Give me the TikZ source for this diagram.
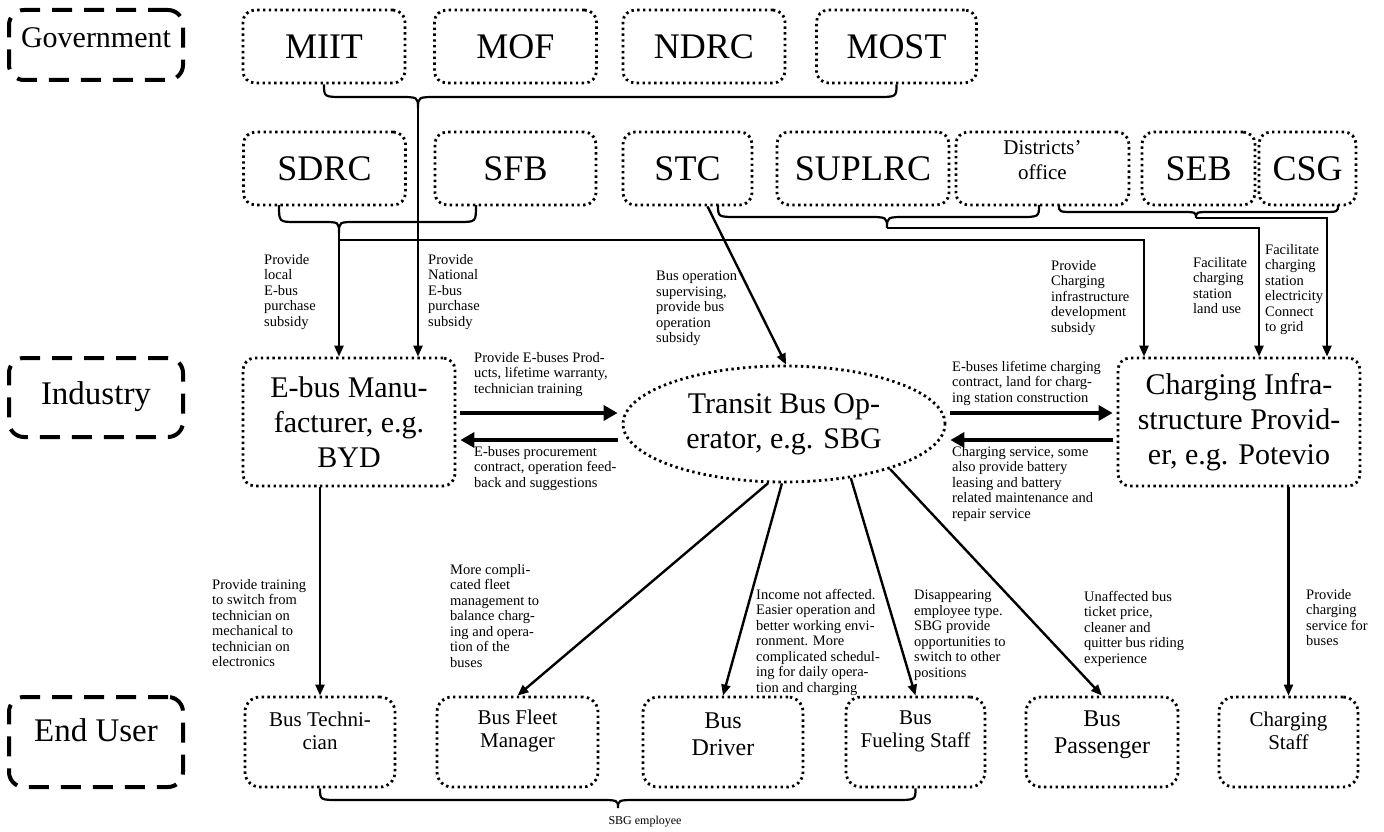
\documentclass[tikz,border=0pt]{standalone}
\usepackage{fontspec}
\setmainfont{Liberation Serif}
\usetikzlibrary{arrows.meta,shapes.geometric,calc}
\newcommand{\myrowfont}{\fontsize{36}{40}\selectfont}
\newcommand{\mymidfont}{\fontsize{30}{35}\selectfont}
\begin{document}
\begin{tikzpicture}[x=1pt,y=-1pt,
  dotbox/.style={draw, rounded corners=12pt, line width=2.8pt, dash pattern=on 2.4pt off 3.4pt, inner sep=0pt, align=center},
  dotell/.style={draw, ellipse, line width=2.8pt, dash pattern=on 2.4pt off 3.4pt, inner sep=0pt, align=center},
  lblbox/.style={draw, rounded corners=15pt, line width=4pt, dash pattern=on 20pt off 12pt, inner sep=0pt, minimum width=174pt},
  ann/.style={font=\fontsize{14.5}{15.5}\selectfont, align=left, anchor=north west, inner sep=0pt},
  btxt/.style={font=\fontsize{21}{23}\selectfont, align=center, inner sep=0pt},
  brace/.style={line width=2.2pt},
  arr/.style={line width=2.4pt, -{Triangle[length=11pt,width=9pt]}},
  barr/.style={line width=4.5pt, -{Triangle[length=14pt,width=15pt]}, shorten <=4pt, shorten >=4pt}]
\useasboundingbox (0,0) rectangle (1384,832);

% ---- level labels
\node[lblbox, minimum height=70pt] (govbox) at (96,45) {};
\node[font=\fontsize{30}{34}\selectfont] (govtxt) at (96,38) {Government};
\node[lblbox, minimum height=79pt] (indbox) at (96,397.5) {};
\node[font=\fontsize{33}{36}\selectfont] (indtxt) at (96,397) {Industry};
\node[lblbox, minimum height=90pt] (endbox) at (96,742) {};
\node[font=\fontsize{33}{36}\selectfont] (endtxt) at (96,730) {End User};

% ---- row 1
\node[dotbox, minimum width=162pt, minimum height=73pt, font=\myrowfont] (miit) at (324,46.5) {MIIT};
\node[dotbox, minimum width=162pt, minimum height=73pt, font=\myrowfont] (mof) at (515.5,46.5) {MOF};
\node[dotbox, minimum width=162pt, minimum height=73pt, font=\myrowfont] (ndrc) at (704,46.5) {NDRC};
\node[dotbox, minimum width=160pt, minimum height=73pt, font=\myrowfont] (most) at (896.5,46.5) {MOST};

% ---- row 2
\node[dotbox, minimum width=162pt, minimum height=73pt, font=\myrowfont] (sdrc) at (324.5,168.5) {SDRC};
\node[dotbox, minimum width=161pt, minimum height=73pt, font=\myrowfont] (sfb) at (515.5,168.5) {SFB};
\node[dotbox, minimum width=129pt, minimum height=73pt, font=\myrowfont] (stc) at (687.5,168.5) {STC};
\node[dotbox, minimum width=172pt, minimum height=73pt, font=\myrowfont] (suplrc) at (863,168.5) {SUPLRC};
\node[dotbox, minimum width=173pt, minimum height=73pt] (dist) at (1042.5,168.5) {};
\node[font=\fontsize{21}{25}\selectfont, align=center, inner sep=0pt] (disttxt) at (1042.5,160) {Districts’\\office};
\node[dotbox, minimum width=113pt, minimum height=73pt, font=\myrowfont] (seb) at (1198.5,168.5) {SEB};
\node[dotbox, minimum width=97pt, minimum height=73pt, font=\myrowfont] (csg) at (1307.5,168.5) {CSG};

% ---- industry
\node[dotbox, minimum width=212pt, minimum height=128pt, font=\mymidfont] (ebus) at (349,422) {E-bus Manu-\\facturer, e.g.\\BYD};
\node[dotell, minimum width=322pt, minimum height=116pt, font=\mymidfont] (tbo) at (784,424) {Transit Bus Op-\\erator, e.g. SBG};
\node[dotbox, minimum width=242pt, minimum height=128pt, font=\mymidfont] (cip) at (1239,422) {Charging Infra-\\structure Provid-\\er, e.g. Potevio};

% ---- end users
\node[dotbox, rounded corners=15pt, minimum width=150pt, minimum height=90pt] (tech) at (320,742) {};
\node[btxt] (techtxt) at (320,731) {Bus Techni-\\cian};
\node[dotbox, rounded corners=15pt, minimum width=161pt, minimum height=90pt] (fleet) at (517.5,742) {};
\node[btxt] (fleettxt) at (517.5,731) {Bus Fleet\\Manager};
\node[dotbox, rounded corners=15pt, minimum width=160pt, minimum height=90pt] (driver) at (723,742) {};
\node[btxt, font=\fontsize{24}{27}\selectfont] (drivertxt) at (723,734) {Bus\\Driver};
\node[dotbox, rounded corners=15pt, minimum width=139pt, minimum height=90pt] (fuel) at (915.5,742) {};
\node[btxt] (fueltxt) at (915.5,731) {Bus\\Fueling Staff};
\node[dotbox, rounded corners=15pt, minimum width=152pt, minimum height=90pt] (pass) at (1102,742) {};
\node[btxt, font=\fontsize{24}{27}\selectfont] (passtxt) at (1102,735) {Bus\\Passenger};
\node[dotbox, rounded corners=15pt, minimum width=139pt, minimum height=90pt] (cstaff) at (1288.5,742) {};
\node[btxt] (cstafftxt) at (1288.5,731) {Charging\\Staff};

% ---- braces and government connectors
\draw[brace] (miit.south) .. controls (324,97) .. (344,97) -- (398,97) .. controls (418,97) .. (418,108) coordinate (tipa)
  .. controls (418,97) .. (438,97) -- (876,97) .. controls (896.5,97) .. (most.south);
\draw[arr] (tipa) -- (tipa |- ebus.north);

\draw[brace] (279,205) .. controls (279,222) .. (296,222) -- (322,222) .. controls (339,222) .. (339,233) coordinate (tipb)
  .. controls (339,222) .. (356,222) -- (459,222) .. controls (476,222) .. (476,205);
\draw[arr] (tipb) -- (tipb |- ebus.north);
\draw[arr] (tipb |- 0,240) -| ($(cip.north)+(-95,0)$);

\draw[brace] (718,205) .. controls (718,217) .. (738,217) -- (867,217) .. controls (887,217) .. (887,228) coordinate (tipc)
  .. controls (887,217) .. (907,217) -- (1019,217) .. controls (1039,217) .. (1039,205);
\draw[arr] (tipc) -| ($(cip.north)+(20,0)$);

\draw[brace] (1059,205) .. controls (1059,212) .. (1075,212) -- (1180,212) .. controls (1196,212) .. (1196,218) coordinate (tipd)
  .. controls (1196,212) .. (1212,212) -- (1322,212) .. controls (1338,212) .. (1338,205);
\draw[arr] (tipd) -| ($(cip.north)+(88,0)$);

\draw[arr] ($(stc.south)+(20,0)$) -- (tbo.88);

% ---- industry exchanges
\draw[barr] (ebus.east |- 0,413) -- (tbo.west |- 0,413);
\draw[barr] (tbo.west |- 0,440) -- (ebus.east |- 0,440);
\draw[barr] (tbo.east |- 0,413) -- (cip.west |- 0,413);
\draw[barr] (cip.west |- 0,440) -- (tbo.east |- 0,440);

% ---- to end users
\draw[arr] (tech.north |- ebus.south) -- (tech.north);
\draw[arr] (tbo.255) -- (fleet.north);
\draw[arr] (tbo.268) -- (driver.north);
\draw[arr] (tbo.321) -- (fuel.north);
\draw[arr] (tbo.337) -- (pass.north);
\draw[arr] (cstaff.north |- cip.south) -- (cstaff.north);

\draw[brace] (tech.south) .. controls (320,800) .. (340,800) -- (598,800) .. controls (618,800) .. (618,808) coordinate (tipe)
  .. controls (618,800) .. (638,800) -- (895,800) .. controls (915.5,800) .. (fuel.south);
\node[font=\fontsize{12}{14}\selectfont] (sbgemp) at (645,822) {SBG employee};

% ---- annotations
\node[ann] (a1) at (264,254) {Provide\\local\\E-bus\\purchase\\subsidy};
\node[ann] (a2) at (428,254) {Provide\\National\\E-bus\\purchase\\subsidy};
\node[ann] (a3) at (656,271) {Bus operation\\supervising,\\provide bus\\operation\\subsidy};
\node[ann] (a4) at (1051,260) {Provide\\Charging\\infrastructure\\development\\subsidy};
\node[ann] (a5) at (1193,257) {Facilitate\\charging\\station\\land use};
\node[ann] (a6) at (1265,244) {Facilitate\\charging\\station\\electricity\\Connect\\to grid};
\node[ann] (a7) at (474,352) {Provide E-buses Prod-\\ucts, lifetime warranty,\\technician training};
\node[ann] (a8) at (474,446) {E-buses procurement\\contract, operation feed-\\back and suggestions};
\node[ann] (a9) at (952,361) {E-buses lifetime charging\\contract, land for charg-\\ing station construction};
\node[ann] (a10) at (952,446) {Charging service, some\\also provide battery\\leasing and battery\\related maintenance and\\repair service};
\node[ann] (a11) at (212,579) {Provide training\\to switch from\\technician on\\mechanical to\\technician on\\electronics};
\node[ann] (a12) at (450,564) {More compli-\\cated fleet\\management to\\balance charg-\\ing and opera-\\tion of the\\buses};
\node[ann] (a13) at (756,589) {Income not affected.\\Easier operation and\\better working envi-\\ronment. More\\complicated schedul-\\ing for daily opera-\\tion and charging};
\node[ann] (a14) at (914,590) {Disappearing\\employee type.\\SBG provide\\opportunities to\\switch to other\\positions};
\node[ann] (a15) at (1084,591) {Unaffected bus\\ticket price,\\cleaner and\\quitter bus riding\\experience};
\node[ann] (a16) at (1306,589) {Provide\\charging\\service for\\buses};
\end{tikzpicture}
\end{document}
